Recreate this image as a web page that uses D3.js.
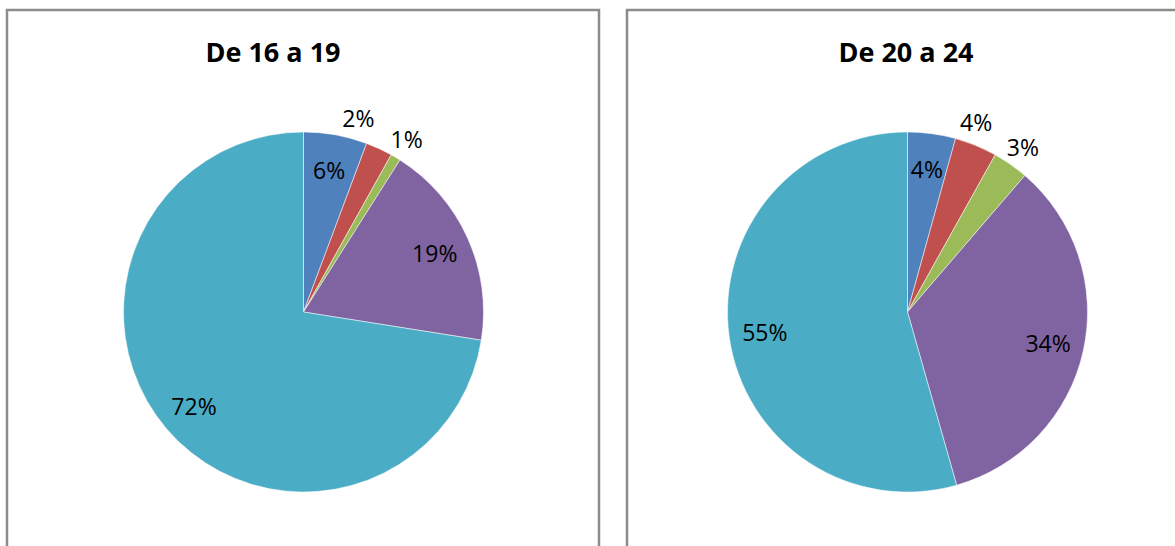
<!DOCTYPE html>
<html>
<head>
<meta charset="utf-8">
<script src="https://cdn.jsdelivr.net/npm/d3@7"></script>
<style>
  body { margin: 0; background: #fff; }
  svg { display: block; font-family: "Open Sans", "Liberation Sans", sans-serif; }
</style>
</head>
<body>
<svg id="chart" width="1175" height="546"></svg>
<script>
// categories are unnamed in the picture (no legend); order is clockwise from 12 o'clock
const categories = ['c1', 'c2', 'c3', 'c4', 'c5'];
const titles = ['De 16 a 19', 'De 20 a 24'];
const values16to19 = [5.7, 2.4, 0.9, 18.5, 72.5];
const values20to24 = [4.3, 3.8, 3.2, 34.3, 54.4];
const labels16to19 = ['6%', '2%', '1%', '19%', '72%'];
const labels20to24 = ['4%', '4%', '3%', '34%', '55%'];
const colors = ['#4F81BD', '#C0504D', '#9BBB59', '#8064A2', '#4BACC6'];

const svg = d3.select('#chart');
const radius = 180;

const panels = [
    { title: titles[0], values: values16to19, labels: labels16to19, box: [7, 10, 592], cx: 303.5, titleX: 273 },
    { title: titles[1], values: values20to24, labels: labels20to24, box: [627, 10, 600], cx: 907.5, titleX: 906 }
];

const color = d3.scaleOrdinal().domain(categories).range(colors);

const pie = d3.pie()
    .sort(null)
    .value(d => d.value);

const arc = d3.arc().innerRadius(0).outerRadius(radius);
const innerLabelArc = d3.arc().innerRadius(radius * 0.8).outerRadius(radius * 0.8);

// small slices get their label outside; spread them so they don't collide
function labelPositions(arcs) {
    const minSep = 15 * Math.PI / 180;
    const pos = arcs.map(d => {
        if (d.data.value >= 4) return { xy: innerLabelArc.centroid(d) };
        return { outside: true, angle: (d.startAngle + d.endAngle) / 2 };
    });
    for (let i = pos.length - 2; i >= 0; i--) {
        const next = pos[i + 1];
        if (pos[i].outside && next.outside && next.angle - pos[i].angle < minSep) {
            pos[i].angle = next.angle - minSep;
        }
    }
    pos.forEach(p => {
        if (p.outside) {
            const r = radius * 1.12;
            p.xy = [Math.sin(p.angle) * r, -Math.cos(p.angle) * r];
        }
    });
    return pos;
}

panels.forEach(p => {
    const [bx, by, bw] = p.box;
    svg.append('rect')
        .attr('x', bx)
        .attr('y', by)
        .attr('width', bw)
        .attr('height', 600)
        .attr('fill', '#fff')
        .attr('stroke', '#8c8c8c')
        .attr('stroke-width', 2.5);

    svg.append('text')
        .attr('x', p.titleX)
        .attr('y', 62)
        .attr('text-anchor', 'middle')
        .attr('font-weight', 'bold')
        .attr('font-size', 27)
        .attr('fill', '#000')
        .text(p.title);

    const data = categories.map((c, i) => ({ cat: c, value: p.values[i], label: p.labels[i] }));
    const g = svg.append('g').attr('transform', `translate(${p.cx},312)`);
    const arcs = pie(data);
    const pos = labelPositions(arcs);

    g.selectAll('path')
        .data(arcs)
        .enter().append('path')
        .attr('d', arc)
        .attr('fill', d => color(d.data.cat))
        .attr('stroke', '#fff')
        .attr('stroke-width', 0.5);

    g.selectAll('text')
        .data(arcs)
        .enter().append('text')
        .attr('transform', (d, i) => `translate(${pos[i].xy})`)
        .attr('text-anchor', 'middle')
        .attr('dominant-baseline', 'central')
        .attr('font-size', 23)
        .attr('fill', '#000')
        .text(d => d.data.label);
});
</script>
</body>
</html>
